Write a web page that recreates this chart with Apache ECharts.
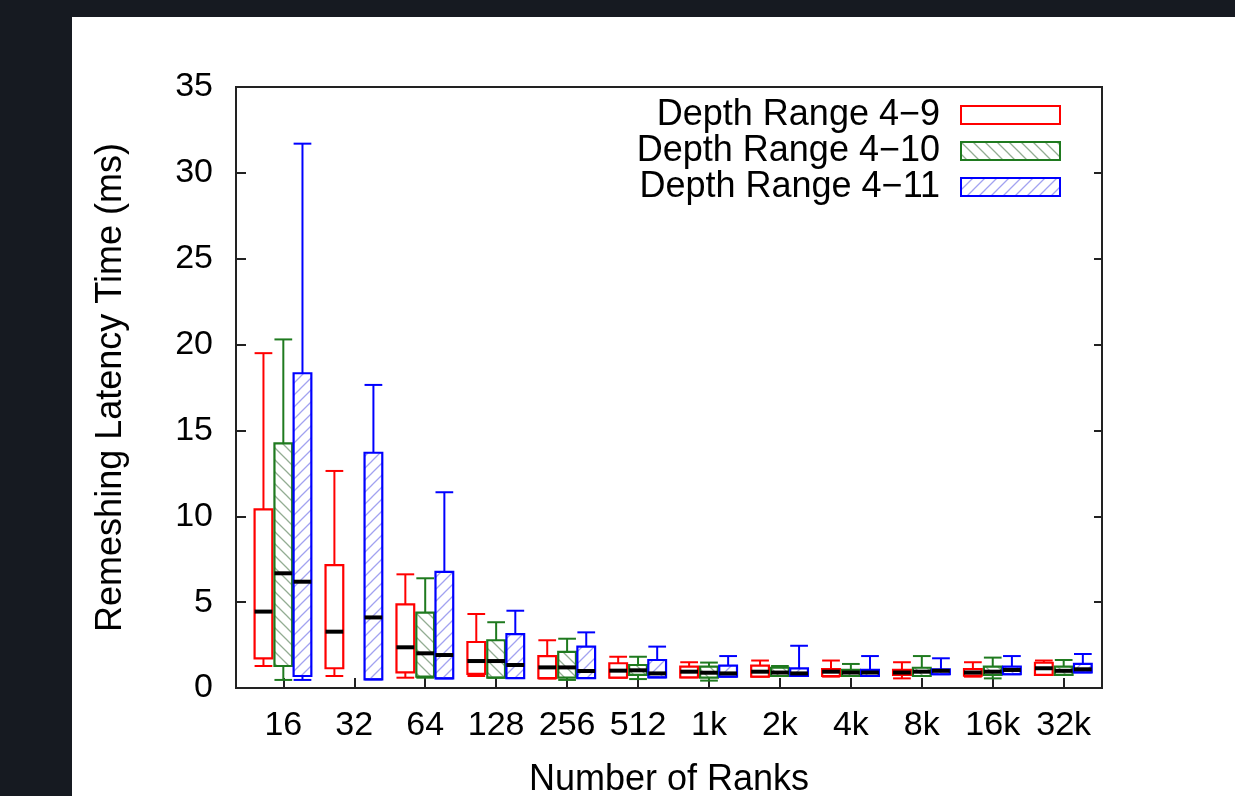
<!DOCTYPE html>
<html>
<head>
<meta charset="utf-8">
<script src="https://cdn.jsdelivr.net/npm/echarts@6/dist/echarts.min.js"></script>
<style>
  html, body { margin: 0; padding: 0; background: #161a21; width: 1235px; height: 796px; overflow: hidden; }
  #container { position: absolute; left: 72px; top: 17px; width: 1163px; height: 779px; background: #fff; }
</style>
</head>
<body>
<div id="container"></div>
<script>
// rank counts on the x axis (positions 1..12)
let rankLabels = ['16', '32', '64', '128', '256', '512', '1k', '2k', '4k', '8k', '16k', '32k'];
let seriesNames = ['Depth Range 4\u22129', 'Depth Range 4\u221210', 'Depth Range 4\u221211'];

// each row: [min, q1, median, q3, max] in ms, null = no box
let depth9 = [
    [1.28, 1.73, 4.45, 10.4, 19.5],
    [0.70, 1.15, 3.28, 7.16, 12.64],
    [0.60, 0.91, 2.37, 4.87, 6.62],
    [0.70, 0.82, 1.57, 2.68, 4.31],
    [0.55, 0.58, 1.20, 1.86, 2.78],
    [0.60, 0.60, 1.01, 1.44, 1.82],
    [0.62, 0.62, 0.95, 1.24, 1.50],
    [0.66, 0.66, 0.95, 1.30, 1.60],
    [0.66, 0.70, 0.95, 1.10, 1.60],
    [0.56, 0.76, 0.90, 1.05, 1.50],
    [0.66, 0.72, 0.90, 1.10, 1.50],
    [0.76, 0.76, 1.15, 1.47, 1.60]
];
let depth10 = [
    [0.47, 1.28, 6.68, 14.25, 20.3],
    null,
    [0.60, 0.66, 2.02, 4.39, 6.39],
    [0.60, 0.60, 1.57, 2.78, 3.83],
    [0.47, 0.60, 1.20, 2.10, 2.87],
    [0.52, 0.76, 1.03, 1.34, 1.82],
    [0.43, 0.60, 0.89, 1.24, 1.48],
    [0.70, 0.70, 0.90, 1.18, 1.28],
    [0.70, 0.70, 0.90, 1.05, 1.40],
    [0.70, 0.70, 0.95, 1.18, 1.86],
    [0.56, 0.76, 0.95, 1.24, 1.77],
    [0.76, 0.76, 1.00, 1.24, 1.63]
];
let depth11 = [
    [0.47, 0.70, 6.19, 18.33, 31.7],
    [0.50, 0.50, 4.11, 13.7, 17.65],
    [0.56, 0.56, 1.92, 6.76, 11.4],
    [0.58, 0.58, 1.34, 3.14, 4.50],
    [0.58, 0.58, 0.99, 2.41, 3.24],
    [0.62, 0.62, 0.85, 1.63, 2.41],
    [0.66, 0.66, 0.85, 1.30, 1.86],
    [0.70, 0.70, 0.85, 1.14, 2.46],
    [0.70, 0.70, 0.90, 1.05, 1.86],
    [0.80, 0.80, 1.00, 1.09, 1.73],
    [0.80, 0.80, 1.05, 1.24, 1.86],
    [0.91, 0.91, 1.09, 1.40, 1.98]
];

const FONT = "'Liberation Sans', Arial, sans-serif";
const BOX_W = 0.25;

// hatch tile for the pattern fills, dir 1 = '/', -1 = '\'
function hatch(color, dir) {
    let s = 12;
    let c = document.createElement('canvas');
    c.width = s; c.height = s;
    let g = c.getContext('2d');
    g.strokeStyle = color;
    g.lineWidth = 1.3;
    g.beginPath();
    if (dir > 0) {
        g.moveTo(-2, s + 2); g.lineTo(s + 2, -2);
        g.moveTo(-2, 2); g.lineTo(2, -2);
        g.moveTo(s - 2, s + 2); g.lineTo(s + 2, s - 2);
    } else {
        g.moveTo(-2, -2); g.lineTo(s + 2, s + 2);
        g.moveTo(s - 2, -2); g.lineTo(s + 2, 2);
        g.moveTo(-2, s - 2); g.lineTo(2, s + 2);
    }
    g.stroke();
    return { image: c, repeat: 'repeat' };
}

let looks = [
    { color: '#ff0000', fill: '#ffffff', offset: -0.28 },
    { color: '#1f7a1f', fill: hatch('#93ad93', -1), offset: 0 },
    { color: '#0000ff', fill: hatch('#a2a2f0', 1), offset: 0.27 }
];

function toData(rows) {
    let out = [];
    rows.forEach(function (r, i) {
        if (r) out.push([i + 1].concat(r));
    });
    return out;
}

function boxRenderer(look) {
    return function (params, api) {
        let x = api.value(0) + look.offset;
        let lo = api.value(1), q1 = api.value(2), med = api.value(3), q3 = api.value(4), hi = api.value(5);
        let pTL = api.coord([x - BOX_W / 2, q3]);
        let pBR = api.coord([x + BOX_W / 2, q1]);
        let pMid = api.coord([x, med]);
        let pHi = api.coord([x, hi]);
        let pLo = api.coord([x, lo]);
        let l = pTL[0], r = pBR[0], cx = (l + r) / 2;
        let line = { stroke: look.color, lineWidth: 2 };
        return {
            type: 'group',
            children: [
                { type: 'line', shape: { x1: cx, y1: pTL[1], x2: cx, y2: pHi[1] }, style: line },
                { type: 'line', shape: { x1: l, y1: pHi[1], x2: r, y2: pHi[1] }, style: line },
                { type: 'line', shape: { x1: cx, y1: pBR[1], x2: cx, y2: pLo[1] }, style: line },
                { type: 'line', shape: { x1: l, y1: pLo[1], x2: r, y2: pLo[1] }, style: line },
                {
                    type: 'rect',
                    shape: { x: l, y: pTL[1], width: r - l, height: pBR[1] - pTL[1] },
                    style: { fill: look.fill, stroke: look.color, lineWidth: 2.2 }
                },
                { type: 'line', shape: { x1: l, y1: pMid[1], x2: r, y2: pMid[1] }, style: { stroke: '#000', lineWidth: 4 } }
            ]
        };
    };
}

let allRows = [depth9, depth10, depth11];
let series = allRows.map(function (rows, k) {
    return {
        name: seriesNames[k],
        type: 'custom',
        renderItem: boxRenderer(looks[k]),
        encode: { x: 0, y: [1, 2, 3, 4, 5] },
        itemStyle: { color: looks[k].fill, borderColor: looks[k].color, borderWidth: 2 },
        data: toData(rows)
    };
});

let dom = document.getElementById('container');
let myChart = echarts.init(dom, null, { renderer: 'canvas' });

let tickSpots = rankLabels.map(function (_, i) { return i + 1; });

let option = {
    animation: false,
    backgroundColor: '#ffffff',
    grid: {
        left: 164, top: 70, width: 866, height: 601,
        outerBoundsMode: 'none',
        containLabel: false,
        show: true, borderColor: '#222', borderWidth: 2
    },
    legend: {
        orient: 'vertical',
        align: 'right',
        right: 169,
        top: 75,
        itemWidth: 99,
        itemHeight: 18,
        itemGap: 0,
        textStyle: { fontFamily: FONT, fontSize: 36, color: '#000', lineHeight: 36, padding: [0, 16, 0, 0] },
        data: seriesNames.map(function (n, k) {
            return {
                name: n,
                icon: 'rect',
                itemStyle: { color: looks[k].fill, borderColor: looks[k].color, borderWidth: 2 }
            };
        })
    },
    xAxis: {
        type: 'value',
        min: 0.333,
        max: 12.54,
        name: 'Number of Ranks',
        nameLocation: 'middle',
        nameGap: 74,
        nameTextStyle: { fontFamily: FONT, fontSize: 36, color: '#000' },
        splitLine: { show: false },
        axisLine: { lineStyle: { color: '#222', width: 2 } },
        axisTick: { inside: true, length: 10, customValues: tickSpots, lineStyle: { color: '#222', width: 2 } },
        axisLabel: {
            customValues: tickSpots,
            margin: 21,
            fontFamily: FONT, fontSize: 34, color: '#000',
            formatter: function (v) { return rankLabels[Math.round(v) - 1]; }
        }
    },
    yAxis: [
        {
            type: 'value',
            min: 0, max: 35, interval: 5,
            name: 'Remeshing Latency Time (ms)',
            nameLocation: 'middle',
            nameRotate: 90,
            nameGap: 107,
            nameTextStyle: { fontFamily: FONT, fontSize: 36, color: '#000' },
            splitLine: { show: false },
            axisLine: { show: true, lineStyle: { color: '#222', width: 2 } },
            axisTick: { inside: true, length: 10, lineStyle: { color: '#222', width: 2 } },
            axisLabel: { margin: 23, fontFamily: FONT, fontSize: 34, color: '#000' }
        },
        {
            type: 'value',
            position: 'right',
            min: 0, max: 35, interval: 5,
            splitLine: { show: false },
            axisLine: { show: true, lineStyle: { color: '#222', width: 2 } },
            axisTick: { inside: true, length: 8, lineStyle: { color: '#222', width: 2 } },
            axisLabel: { show: false }
        }
    ],
    series: series
};
myChart.setOption(option);
</script>
</body>
</html>
